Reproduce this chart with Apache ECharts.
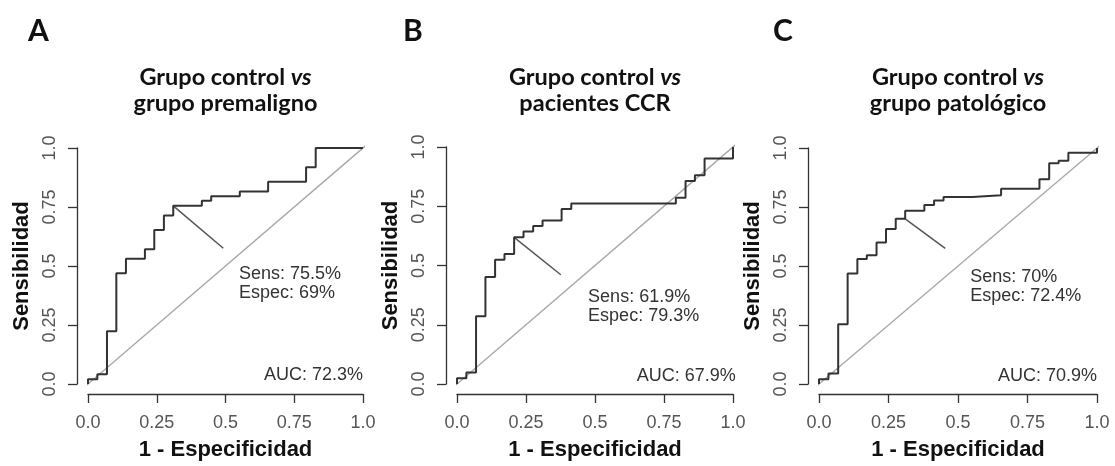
<!DOCTYPE html>
<html>
<head>
<meta charset="utf-8">
<script src="https://cdn.jsdelivr.net/npm/echarts/dist/echarts.min.js"></script>
<style>
    html, body { margin: 0; padding: 0; background: #fff; }
    #chart { width: 1115px; height: 466px; }
</style>
</head>
<body>
<div id="chart"></div>
<script>
const tickLabels = ['0.0', '0.25', '0.5', '0.75', '1.0'];
const panelLetters = ['A', 'B', 'C'];
const titleSecondLine = ['grupo premaligno', 'pacientes CCR', 'grupo patológico'];

// ROC curves (1 - especificidad, sensibilidad)
const fprA = [0, 0, 0.034, 0.069, 0.103, 0.138, 0.207, 0.241, 0.276, 0.31, 0.414, 0.448, 0.552, 0.655, 0.793, 0.828, 1];
const tprA = [0, 0.02, 0.041, 0.224, 0.469, 0.531, 0.571, 0.653, 0.714, 0.755, 0.776, 0.796, 0.816, 0.857, 0.918, 1, 1];

const fprB = [0, 0, 0.034, 0.069, 0.103, 0.138, 0.172, 0.207, 0.241, 0.276, 0.31, 0.379, 0.414, 0.793, 0.828, 0.862, 0.897, 1];
const tprB = [0, 0.024, 0.048, 0.286, 0.452, 0.524, 0.548, 0.619, 0.643, 0.667, 0.69, 0.738, 0.762, 0.786, 0.857, 0.881, 0.952, 1];

const fprC = [0, 0, 0.034, 0.069, 0.103, 0.138, 0.172, 0.207, 0.241, 0.276, 0.31, 0.379, 0.414, 0.448, 0.552, 0.655, 0.793, 0.828, 0.862, 0.897, 1];
const tprC = [0, 0.02, 0.044, 0.253, 0.468, 0.53, 0.546, 0.6, 0.657, 0.7, 0.734, 0.759, 0.778, 0.792, 0.8, 0.827, 0.868, 0.935, 0.946, 0.98, 1];

// best threshold point and the end of its pointer line
const cutFpr = [0.31, 0.207, 0.31];
const cutTpr = [0.755, 0.619, 0.7];
const tipFpr = [0.492, 0.376, 0.454];
const tipTpr = [0.575, 0.461, 0.575];

const sensLabels = ['75.5%', '61.9%', '70%'];
const specLabels = ['69%', '79.3%', '72.4%'];
const aucLabels = ['72.3%', '67.9%', '70.9%'];

document.addEventListener('DOMContentLoaded', () => {
    const chart = echarts.init(document.getElementById('chart'));

    const curves = [[fprA, tprA], [fprB, tprB], [fprC, tprC]];

    // layout of the three panels (pixels) and where the texts sit (data units)
    const panels = [
        { left: 88, top: 148, width: 275, height: 239, letterX: 28, note: [0.549, 0.505], auc: [1, 0.04] },
        { left: 457, top: 147, width: 276, height: 240, letterX: 403, note: [0.475, 0.405], auc: [1.01, 0.035] },
        { left: 819, top: 148, width: 278, height: 240, letterX: 773, note: [0.544, 0.492], auc: [1, 0.035] }
    ];

    const labelFont = '"Liberation Sans", Arial, sans-serif';
    const titleFont = 'Lato, "Open Sans", sans-serif';

    const grid = [], xAxis = [], yAxis = [], series = [], title = [];

    panels.forEach((p, i) => {
        grid.push({ left: p.left, top: p.top, width: p.width, height: p.height });

        const axisCommon = {
            gridIndex: i,
            type: 'value',
            min: 0,
            max: 1,
            interval: 0.25,
            nameLocation: 'middle',
            nameTextStyle: { fontFamily: labelFont, fontSize: 22, fontWeight: 'bold', color: '#111' },
            axisLine: { show: true, onZero: false, lineStyle: { color: '#333', width: 1.3 } },
            axisTick: { show: true, length: 9, lineStyle: { color: '#333', width: 1.3 } },
            splitLine: { show: false },
            axisLabel: {
                fontFamily: labelFont,
                fontSize: 18,
                color: '#555',
                showMinLabel: true,
                showMaxLabel: true,
                formatter: v => tickLabels[Math.round(v * 4)]
            }
        };

        xAxis.push(Object.assign({}, axisCommon, {
            name: '1 - Especificidad',
            nameGap: 45,
            offset: 10,
            axisLabel: Object.assign({}, axisCommon.axisLabel, { margin: 20 })
        }));
        yAxis.push(Object.assign({}, axisCommon, {
            name: 'Sensibilidad',
            nameGap: 44,
            offset: 11,
            axisLabel: Object.assign({}, axisCommon.axisLabel, { margin: 18, rotate: 90 })
        }));

        series.push({
            type: 'line',
            xAxisIndex: i,
            yAxisIndex: i,
            data: [[-0.04, -0.04], [1.04, 1.04]],
            clip: false,
            symbol: 'none',
            silent: true,
            lineStyle: { color: '#a8a8a8', width: 1.4 },
            z: 1
        });
        series.push({
            type: 'line',
            xAxisIndex: i,
            yAxisIndex: i,
            step: 'end',
            data: curves[i][0].map((x, k) => [x, curves[i][1][k]]),
            symbol: 'none',
            lineStyle: { color: '#333', width: 2 },
            z: 3
        });
        series.push({
            type: 'line',
            xAxisIndex: i,
            yAxisIndex: i,
            data: [[cutFpr[i], cutTpr[i]], [tipFpr[i], tipTpr[i]]],
            symbol: 'none',
            lineStyle: { color: '#555', width: 1.5 },
            z: 2
        });

        title.push({
            text: panelLetters[i],
            left: p.letterX,
            top: 16,
            padding: 0,
            textStyle: { fontFamily: titleFont, fontSize: 30, fontWeight: 'bold', color: '#111' }
        });
        title.push({
            text: '{b|Grupo control }{i|vs}\n{b|' + titleSecondLine[i] + '}',
            left: p.left + p.width / 2,
            top: 64,
            padding: 0,
            textAlign: 'center',
            textStyle: {
                rich: {
                    b: { fontFamily: titleFont, fontSize: 23.5, fontWeight: 'bold', color: '#111', lineHeight: 26 },
                    i: { fontFamily: titleFont, fontSize: 23.5, fontWeight: 'bold', fontStyle: 'italic', color: '#111', lineHeight: 26 }
                }
            }
        });
    });

    chart.setOption({
        animation: false,
        title: title,
        grid: grid,
        xAxis: xAxis,
        yAxis: yAxis,
        series: series
    });

    // annotations placed from data coordinates
    const graphic = [];
    panels.forEach((p, i) => {
        const note = chart.convertToPixel({ gridIndex: i }, p.note);
        const auc = chart.convertToPixel({ gridIndex: i }, p.auc);
        graphic.push({
            type: 'text',
            x: note[0],
            y: note[1],
            style: {
                text: 'Sens: ' + sensLabels[i] + '\nEspec: ' + specLabels[i],
                font: '18px ' + labelFont,
                fill: '#333',
                lineHeight: 19,
                align: 'left',
                verticalAlign: 'top'
            }
        });
        graphic.push({
            type: 'text',
            x: auc[0],
            y: auc[1],
            style: {
                text: 'AUC: ' + aucLabels[i],
                font: '18px ' + labelFont,
                fill: '#333',
                align: 'right',
                verticalAlign: 'middle'
            }
        });
    });
    chart.setOption({ graphic: graphic });
});
</script>
</body>
</html>
